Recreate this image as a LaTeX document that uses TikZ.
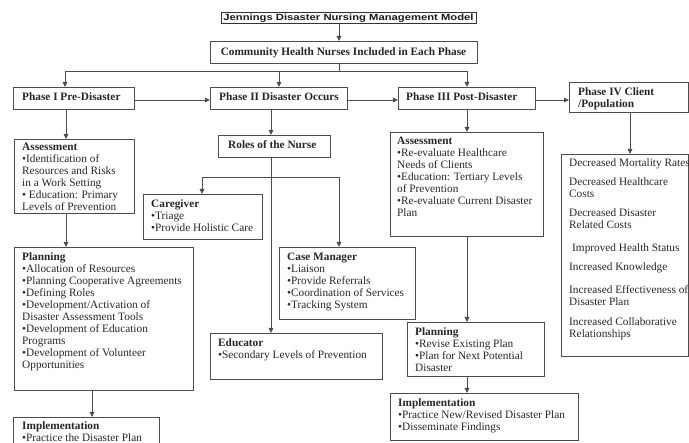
\documentclass[tikz,border=0pt]{standalone}
\usepackage{graphicx}
\usepackage{fontspec}
\setmainfont{Liberation Serif}
\newfontfamily\titlefont{Liberation Sans}
\usetikzlibrary{arrows.meta,calc}

\begin{document}
\begin{tikzpicture}[x=1pt,y=-1pt,
  boxs/.style={draw=black!70, line width=1.1pt, inner sep=0pt, anchor=north west},
  txt/.style={inner sep=0pt, anchor=north west, align=left, font=\fontsize{11.3}{12}\selectfont, text=black!85},
  head/.style={inner sep=0pt, anchor=base west, font=\fontsize{11.3}{12}\selectfont\bfseries, text=black!85},
  conn/.style={draw=black!70, line width=0.9pt},
  arr/.style={conn, -{Triangle[length=5pt,width=4.5pt]}},
]
\useasboundingbox (0,0) rectangle (689,443);
\clip (0,0) rectangle (689,443);

% ---------- boxes ----------
\node[boxs, draw=black!80, line width=0.9pt, minimum width=255, minimum height=11] (title) at (221,12) {};
\node[inner sep=0pt, anchor=base, text=black!90, font=\titlefont\bfseries\fontsize{9}{10}\selectfont] (title-t) at (348.5,20.6) {\scalebox{1.25}[1]{Jennings Disaster Nursing Management Model}};

\node[boxs, minimum width=267, minimum height=22] (comm) at (210,41) {};
\node[head, anchor=base] (comm-t) at (343.5,55.5) {Community Health Nurses Included in Each Phase};

\node[boxs, minimum width=121, minimum height=22] (p1) at (13,87) {};
\node[head] (p1-t) at (22,101) {Phase I Pre-Disaster};
\node[boxs, minimum width=137, minimum height=22] (p2) at (210,87) {};
\node[head] (p2-t) at (219,101) {Phase II Disaster Occurs};
\node[boxs, minimum width=137, minimum height=22] (p3) at (398,87) {};
\node[head] (p3-t) at (406,101) {Phase III Post-Disaster};
\node[boxs, minimum width=119, minimum height=30] (p4) at (569,82) {};
\node[txt, font=\fontsize{11.3}{12}\selectfont\bfseries] (p4-t) at (578,86) {\rule{0pt}{9pt}Phase IV Client\\/Population};

% Phase I column
\node[boxs, minimum width=120, minimum height=74] (a1) at (14,139) {};
\node[txt] (a1-t) at (22,141) {\rule{0pt}{9pt}\textbf{Assessment}\\•Identification of\\Resources and Risks\\in a Work Setting\\• Education: Primary\\Levels of Prevention};

\node[boxs, minimum width=179, minimum height=143] (pl1) at (14,247) {};
\node[txt] (pl1-t) at (22,251) {\rule{0pt}{9pt}\textbf{Planning}\\•Allocation of Resources\\•Planning Cooperative Agreements\\•Defining Roles\\•Development/Activation of\\Disaster Assessment Tools\\•Development of Education\\Programs\\•Development of Volunteer\\Opportunities};

\node[boxs, minimum width=146, minimum height=40] (im1) at (13,417) {};
\node[txt] (im1-t) at (22,420) {\rule{0pt}{9pt}\textbf{Implementation}\\•Practice the Disaster Plan};

% Phase II column
\node[boxs, minimum width=112, minimum height=22] (roles) at (218,135) {};
\node[head] (roles-t) at (228,148.5) {Roles of the Nurse};

\node[boxs, minimum width=119, minimum height=45] (care) at (143,194) {};
\node[txt] (care-t) at (151,198) {\rule{0pt}{9pt}\textbf{Caregiver}\\•Triage\\•Provide Holistic Care};

\node[boxs, minimum width=136, minimum height=72] (casem) at (279,247) {};
\node[txt] (casem-t) at (287,251) {\rule{0pt}{9pt}\textbf{Case Manager}\\•Liaison\\•Provide Referrals\\•Coordination of Services\\•Tracking System};

\node[boxs, minimum width=172, minimum height=46] (edu) at (210,333) {};
\node[txt] (edu-t) at (218,337) {\rule{0pt}{9pt}\textbf{Educator}\\•Secondary Levels of Prevention};

% Phase III column
\node[boxs, minimum width=153, minimum height=104] (a3) at (390,132) {};
\node[txt] (a3-t) at (397,135) {\rule{0pt}{9pt}\textbf{Assessment}\\•Re-evaluate Healthcare\\Needs of Clients\\•Education: Tertiary Levels\\of Prevention\\•Re-evaluate Current Disaster\\Plan};

\node[boxs, minimum width=137, minimum height=54] (pl3) at (407,322) {};
\node[txt] (pl3-t) at (415,326) {\rule{0pt}{9pt}\textbf{Planning}\\•Revise Existing Plan\\•Plan for Next Potential\\Disaster};

\node[boxs, minimum width=188, minimum height=47] (im3) at (390,393) {};
\node[txt] (im3-t) at (398,397) {\rule{0pt}{9pt}\textbf{Implementation}\\•Practice New/Revised Disaster Plan\\•Disseminate Findings};

% Phase IV outcomes
\node[boxs, minimum width=127, minimum height=202] (out) at (561,154) {};
\node[txt] (out-t) at (569,157) {\rule{0pt}{9pt}Decreased Mortality Rates\\[7pt]Decreased Healthcare\\Costs\\[7pt]Decreased Disaster\\Related Costs\\[11pt]\hspace*{3pt}Improved Health Status\\[7pt]Increased Knowledge\\[11pt]Increased Effectiveness of\\Disaster Plan\\[8pt]Increased Collaborative\\Relationships};

% ---------- connectors ----------
\coordinate (xT) at (339,0);
\coordinate (bar) at (339,71);
\coordinate (x1) at (65,0);
\coordinate (x2) at (279,0);
\coordinate (x3) at (467,0);
\coordinate (hy) at (0,100);
\coordinate (xa1) at (66,0);
\coordinate (xi1) at (92,0);
\coordinate (xr) at (271,0);
\coordinate (rbar) at (0,177);
\coordinate (xc) at (202,0);
\coordinate (xcm) at (339,0);
\coordinate (x4) at (630,0);

\draw[arr] (title.south -| xT) -- (comm.north -| xT);
\draw[conn] (comm.south -| xT) -- (bar);
\draw[conn] (bar -| x1) -- (bar -| x3);
\draw[arr] (bar -| x1) -- (p1.north -| x1);
\draw[arr] (bar -| x2) -- (p2.north -| x2);
\draw[arr] (bar -| x3) -- (p3.north -| x3);

\draw[arr] (p1.east |- hy) -- (p2.west |- hy);
\draw[arr] (p2.east |- hy) -- (p3.west |- hy);
\draw[arr] (p3.east |- hy) -- (p4.west |- hy);

\draw[arr] (p1.south -| xa1) -- (a1.north -| xa1);
\draw[arr] (a1.south -| xa1) -- (pl1.north -| xa1);
\draw[arr] (pl1.south -| xi1) -- (im1.north -| xi1);

\draw[arr] (p2.south -| xr) -- (roles.north -| xr);
\draw[arr] (roles.south -| xr) -- (edu.north -| xr);
\draw[arr] (rbar -| xr) -| (care.north -| xc);
\draw[arr] (rbar -| xr) -| (casem.north -| xcm);

\draw[arr] (p3.south -| x3) -- (a3.north -| x3);
\draw[arr] (a3.south -| x3) -- (pl3.north -| x3);
\draw[arr] (pl3.south -| x3) -- (im3.north -| x3);

\draw[arr] (p4.south -| x4) -- (out.north -| x4);
\end{tikzpicture}
\end{document}
